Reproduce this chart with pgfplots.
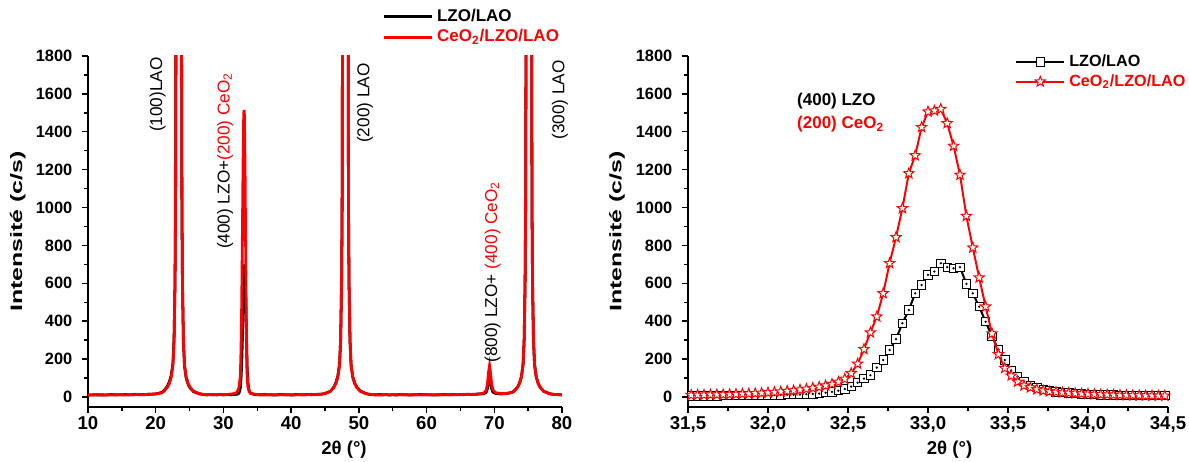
\documentclass[border=0pt]{standalone}
\usepackage{fontspec}
\setmainfont{Liberation Sans}
\usepackage{pgfplots}
\pgfplotsset{compat=1.18}
\usepackage{pgfplotstable}
\usetikzlibrary{plotmarks}

\pgfdeclareplotmark{ostar}{%
  \pgfpathmoveto{\pgfpointpolar{90}{\pgfplotmarksize}}%
  \pgfpathlineto{\pgfpointpolar{126}{0.42\pgfplotmarksize}}%
  \pgfpathlineto{\pgfpointpolar{162}{\pgfplotmarksize}}%
  \pgfpathlineto{\pgfpointpolar{198}{0.42\pgfplotmarksize}}%
  \pgfpathlineto{\pgfpointpolar{234}{\pgfplotmarksize}}%
  \pgfpathlineto{\pgfpointpolar{270}{0.42\pgfplotmarksize}}%
  \pgfpathlineto{\pgfpointpolar{306}{\pgfplotmarksize}}%
  \pgfpathlineto{\pgfpointpolar{342}{0.42\pgfplotmarksize}}%
  \pgfpathlineto{\pgfpointpolar{18}{\pgfplotmarksize}}%
  \pgfpathlineto{\pgfpointpolar{54}{0.42\pgfplotmarksize}}%
  \pgfpathclose
  \pgfusepathqfillstroke
}

% LZO/LAO (black), wide scan
\pgfplotstableread{
x y
10.0 11
10.5 10
11.0 12
11.5 10
12.0 12
12.5 10
13.0 11
13.5 13
14.0 10
14.5 12
15.0 11
15.5 13
16.0 11
16.5 12
17.0 14
17.5 12
18.0 13
18.5 12
19.0 14
19.5 15
20.0 16
20.4 19
20.9 24
21.2 32
21.7 55
22.0 78
22.3 115
22.55 180
22.71 310
22.85 600
22.93 1000
22.98 1800
23.05 5000
23.2 30000
23.4 50000
23.6 30000
23.75 5000
23.82 1800
23.87 1000
23.95 600
24.09 300
24.25 165
24.5 100
24.8 66
25.1 46
25.6 28
26.4 17
27.0 13
27.5 11
28.0 12
28.5 12
29.0 11
29.5 13
30.0 11
30.5 12
31.0 12
31.5 13
32.0 14
32.3 20
32.5 48
32.6 100
32.7 175
32.8 305
32.9 505
33.0 640
33.1 700
33.2 665
33.3 500
33.4 315
33.5 155
33.6 80
33.8 32
34.0 20
34.5 14
35.0 12
35.5 11
36.0 13
36.5 11
37.0 12
37.5 10
38.0 12
38.5 13
39.0 11
39.5 12
40.0 10
40.5 12
41.0 13
41.5 11
42.0 12
42.5 13
43.0 12
43.5 13
44.0 14
44.5 15
45.0 18
45.8 30
46.3 52
46.6 74
46.9 110
47.15 175
47.31 300
47.45 600
47.53 1000
47.58 1800
47.65 5000
47.8 30000
48.0 50000
48.2 30000
48.35 5000
48.42 1800
48.47 1000
48.55 600
48.69 300
48.85 170
49.1 105
49.4 72
49.7 52
50.2 32
51.0 19
51.5 14
52.0 12
52.5 11
53.0 13
53.5 11
54.0 12
54.5 10
55.0 12
55.5 11
56.0 13
56.5 11
57.0 12
57.5 10
58.0 12
58.5 11
59.0 13
59.5 12
60.0 11
60.5 12
61.0 10
61.5 12
62.0 11
62.5 13
63.0 12
63.5 11
64.0 13
64.5 12
65.0 13
65.5 12
66.0 14
66.5 13
67.0 14
67.5 15
68.0 16
68.5 18
68.8 25
69.0 45
69.15 85
69.3 112
69.45 85
69.6 45
69.8 26
70.1 20
70.5 17
71.0 16
71.5 17
72.1 20
72.6 24
72.9 30
73.4 50
73.7 70
74.0 105
74.25 170
74.41 300
74.55 600
74.63 1000
74.68 1800
74.75 5000
74.9 30000
75.1 50000
75.3 30000
75.45 5000
75.52 1800
75.57 1000
75.65 600
75.79 300
75.95 170
76.2 105
76.5 70
76.8 50
77.3 30
78.1 18
78.5 15
79.0 13
79.5 12
80.0 11
}\leftblack

% CeO2/LZO/LAO (red), wide scan
\pgfplotstableread{
x y
10.0 9
10.5 12
11.0 10
11.5 13
12.0 9
12.5 11
13.0 12
13.5 10
14.0 13
14.5 11
15.0 12
15.5 10
16.0 13
16.5 11
17.0 12
17.5 14
18.0 11
18.5 13
19.0 15
19.5 14
20.0 16
20.4 18
20.9 22
21.2 30
21.7 50
22.0 70
22.3 105
22.55 170
22.71 300
22.85 600
22.93 1000
22.98 1800
23.05 5000
23.2 30000
23.4 50000
23.6 30000
23.75 5000
23.82 1800
23.87 1000
23.95 600
24.09 300
24.25 170
24.5 105
24.8 70
25.1 50
25.6 30
26.4 18
27.0 14
27.5 12
28.0 13
28.5 11
29.0 12
29.5 14
30.0 12
30.5 13
31.0 15
31.5 17
32.0 24
32.3 50
32.5 110
32.6 250
32.7 485
32.8 845
32.9 1230
33.0 1500
33.06 1515
33.1 1485
33.2 1170
33.3 710
33.4 330
33.5 125
33.6 58
33.8 30
34.0 20
34.5 15
35.0 13
35.5 12
36.0 10
36.5 13
37.0 11
37.5 12
38.0 10
38.5 12
39.0 13
39.5 11
40.0 12
40.5 10
41.0 12
41.5 13
42.0 11
42.5 12
43.0 14
43.5 12
44.0 13
44.5 15
45.0 18
45.8 30
46.3 50
46.6 70
46.9 105
47.15 170
47.31 300
47.45 600
47.53 1000
47.58 1800
47.65 5000
47.8 30000
48.0 50000
48.2 30000
48.35 5000
48.42 1800
48.47 1000
48.55 600
48.69 300
48.85 170
49.1 105
49.4 70
49.7 50
50.2 30
51.0 18
51.5 14
52.0 13
52.5 12
53.0 10
53.5 12
54.0 13
54.5 11
55.0 12
55.5 10
56.0 12
56.5 13
57.0 11
57.5 12
58.0 10
58.5 13
59.0 11
59.5 12
60.0 13
60.5 11
61.0 12
61.5 10
62.0 12
62.5 11
63.0 13
63.5 12
64.0 11
64.5 13
65.0 12
65.5 14
66.0 13
66.5 14
67.0 13
67.5 15
68.0 17
68.5 22
68.8 35
69.0 70
69.15 130
69.3 165
69.45 125
69.6 70
69.8 38
70.1 24
70.5 20
71.0 18
71.5 18
72.1 20
72.6 24
72.9 30
73.4 50
73.7 70
74.0 105
74.25 170
74.41 300
74.55 600
74.63 1000
74.68 1800
74.75 5000
74.9 30000
75.1 50000
75.3 30000
75.45 5000
75.52 1800
75.57 1000
75.65 600
75.79 300
75.95 170
76.2 105
76.5 70
76.8 50
77.3 30
78.1 18
78.5 15
79.0 13
79.5 12
80.0 11
}\leftred

% fine scan around 33 deg: x, LZO/LAO (b), CeO2/LZO/LAO (r)
\pgfplotstableread{
x b r
31.52 5 10
31.56 5 11
31.60 6 11
31.64 6 12
31.68 6 12
31.72 7 13
31.76 7 14
31.80 7 15
31.84 8 16
31.88 8 17
31.92 8 19
31.96 9 21
32.00 10 23
32.04 10 25
32.08 11 28
32.12 12 31
32.16 12 34
32.20 13 38
32.24 14 42
32.28 16 47
32.32 18 53
32.36 22 60
32.40 27 68
32.44 33 79
32.48 42 95
32.52 55 125
32.56 75 175
32.60 97 252
32.64 115 340
32.68 155 424
32.72 195 547
32.76 248 706
32.80 305 843
32.84 389 996
32.88 459 1180
32.92 547 1275
32.96 591 1424
33.00 644 1506
33.04 662 1511
33.08 706 1520
33.12 685 1445
33.16 679 1325
33.20 685 1172
33.24 597 955
33.28 547 788
33.32 477 630
33.36 397 477
33.40 320 335
33.44 250 225
33.48 195 152
33.52 140 112
33.56 108 80
33.60 81 60
33.64 62 50
33.68 49 40
33.72 40 33
33.76 33 29
33.80 27 26
33.84 23 23
33.88 20 21
33.92 17 19
33.96 15 17
34.00 13 16
34.04 12 14
34.08 11 13
34.12 10 12
34.16 10 11
34.20 9 10
34.24 9 9
34.28 9 8
34.32 8 8
34.36 8 7
34.40 8 7
34.44 8 6
34.48 8 6
}\rightdata

\pgfplotsset{
  common/.style={
    scale only axis, height=175.5pt, ymin=-53, ymax=1800,
    axis x line*=bottom, axis y line*=left,
    axis line style={line width=0.7pt, -},
    tick style={line width=0.7pt, black},
    tick align=outside, major tick length=2.8pt, minor tick length=1.8pt,
    ytick={0,200,...,1800}, minor y tick num=1, minor x tick num=1,
    /pgf/number format/assume math mode=true,
    /pgf/number format/1000 sep={},
    yticklabel style={font=\bfseries\fontsize{8.2}{9}\selectfont, xshift=-1.5pt},
    xticklabel style={font=\bfseries\fontsize{9.3}{11}\selectfont, yshift=1.5pt},
    xlabel style={font=\bfseries\fontsize{9.3}{11}\selectfont, at={(axis description cs:0.54,-0.122)}, anchor=center},
    ylabel style={font=\bfseries\fontsize{8.3}{10}\selectfont, at={(axis description cs:-0.148,0.5)}, anchor=center, xscale=1.5},
    clip mode=individual,
    legend style={draw=none, fill=none, font=\bfseries\fontsize{8.5}{10}\selectfont, inner sep=0pt, row sep=-1.5pt},
    legend cell align=left,
    legend image code/.code={\draw[mark repeat=2,mark phase=2,##1] plot coordinates {(0pt,0pt) (12pt,0pt) (24pt,0pt)};},
  },
}
\tikzset{ann/.style={font=\fontsize{8.6}{10}\selectfont, rotate=90, anchor=east, inner sep=0pt}}

\begin{document}
\begin{tikzpicture}
\useasboundingbox (0,0) rectangle (594.5pt,230.5pt);
% ---------- left panel ----------
\begin{axis}[common, at={(44pt,27pt)}, anchor=south west, width=237pt,
  xmin=10, xmax=80, xtick={10,20,...,80},
  xlabel={2θ (°)}, ylabel={Intensité (c/s)},
  legend style={at={(axis description cs:0.62,1.0825)}, anchor=west}]
\addplot[black, line width=1.4pt] table {\leftblack};
\addlegendentry{LZO/LAO}
\addplot[red, line width=1.4pt] table {\leftred};
\addlegendentry{\textcolor{red}{CeO\textsubscript{2}/LZO/LAO}}
\node[ann] at (axis cs:20.3,1795) {(100)LAO};
\node[ann] at (axis cs:30.25,1715) {(400) LZO+\textcolor{red}{(200) CeO\textsubscript{2}}};
\node[ann] at (axis cs:50.9,1763) {(200) LAO};
\node[ann] at (axis cs:69.75,1140) {(800) LZO+ \textcolor{red}{(400) CeO\textsubscript{2}}};
\node[ann] at (axis cs:79.7,1780) {(300) LAO};
\end{axis}
% ---------- right panel ----------
\begin{axis}[common, at={(344pt,27pt)}, anchor=south west, width=240pt,
  xmin=31.5, xmax=34.5, xtick={31.5,32,32.5,33,33.5,34,34.5},
  xticklabel style={/pgf/number format/.cd, use comma, fixed, fixed zerofill, precision=1},
  xlabel={2θ (°)}, ylabel={Intensité (c/s)},
  xlabel style={at={(axis description cs:0.545,-0.122)}},
  legend style={at={(axis description cs:0.681,0.955)}, anchor=west, font=\bfseries\fontsize{8.1}{9.5}\selectfont}]
\addplot[black, line width=1pt, mark=square*, mark size=2.1pt,
  mark options={fill=white, draw=black, line width=0.5pt}] table[x=x, y=b] {\rightdata};
\addlegendentry{LZO/LAO}
\addplot[only marks, black, mark=*, mark size=0.35pt, forget plot] table[x=x, y=b] {\rightdata};
\addplot[red, line width=1pt, mark=ostar, mark size=2.7pt,
  mark options={fill=white, draw=red, line width=0.5pt}] table[x=x, y=r] {\rightdata};
\addlegendentry{\textcolor{red}{CeO\textsubscript{2}/LZO/LAO}}
\node[anchor=west, inner sep=0pt, font=\bfseries\fontsize{8.5}{10}\selectfont] at (axis cs:32.18,1563) {(400) LZO};
\node[anchor=west, inner sep=0pt, text=red, font=\bfseries\fontsize{8.5}{10}\selectfont] at (axis cs:32.18,1441) {(200) CeO\textsubscript{2}};
\end{axis}
\end{tikzpicture}
\end{document}
